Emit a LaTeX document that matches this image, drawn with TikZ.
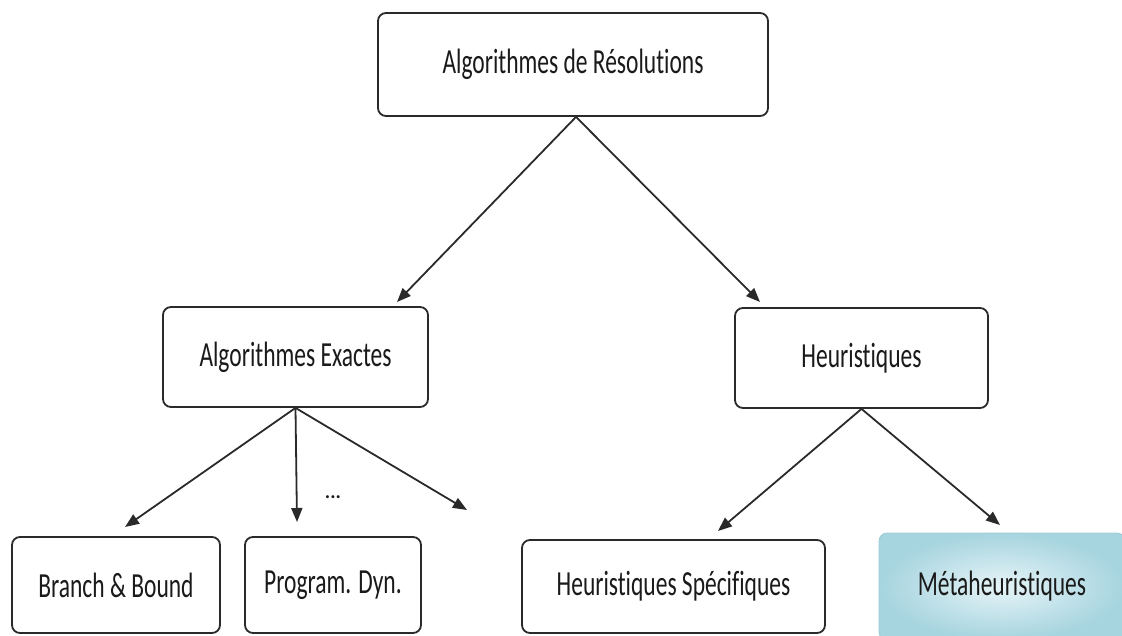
\documentclass[tikz,border=0pt]{standalone}
\usepackage{fontspec}
\usepackage{graphicx}
\setmainfont{Carlito}[Ligatures={NoCommon}]
\usetikzlibrary{arrows.meta,calc}
\newcommand{\tallword}[1]{\scalebox{1}[1.5]{#1}}
\definecolor{inkgray}{HTML}{1A1A1A}
\definecolor{edgegray}{HTML}{2A2A2A}
\definecolor{metaedge}{HTML}{9CCAD6}
\definecolor{metaout}{HTML}{A6D4DF}
\definecolor{metain}{HTML}{E6F4F7}
\tikzset{
  x=1pt, y=-1pt,
  box/.style={draw=edgegray, line width=1.8pt, rounded corners=8pt, fill=white,
    text=inkgray, font=\fontsize{23.5}{28}\selectfont, inner sep=0pt},
  metabox/.style={box, draw=metaedge, line width=0.8pt, inner color=metain, outer color=metaout},
  link/.style={draw=edgegray, line width=1.8pt, -{Triangle[length=14pt,width=11pt]}}
}
\begin{document}
\begin{tikzpicture}
\useasboundingbox (0,0) rectangle (1122,635);

% boxes of the tree
\node[box, minimum width=390pt, minimum height=103pt] (top) at (573,64.5) {\tallword{Algorithmes de Résolutions}};
\node[box, minimum width=265pt, minimum height=100pt] (exact) at (295.5,357) {\tallword{Algorithmes Exactes}};
\node[box, minimum width=253pt, minimum height=100pt] (heur) at (861.5,358) {\tallword{Heuristiques}};
\node[box, minimum width=208pt, minimum height=96pt] (bb) at (116,585) {\tallword{Branch \& Bound}};
\node[box, minimum width=176pt, minimum height=96pt] (pd) at (333,585) {\tallword{Program. Dyn.}};
\node[box, minimum width=303pt, minimum height=93pt] (hs) at (673.5,586.5) {\tallword{Heuristiques Spécifiques}};
\node[metabox, minimum width=246pt, minimum height=107pt] (meta) at (1002,586.5) {\tallword{Métaheuristiques}};
\node[text=inkgray, font=\fontsize{20}{22}\selectfont\bfseries, inner sep=0pt] (dots) at (333,497) {...};

% arrow end points
\coordinate (tipExact) at (397,302);
\coordinate (tipHeur) at (760,302);
\coordinate (tipBB) at (125,527);
\coordinate (tipPD) at (297,522);
\coordinate (tipMore) at (467,510);
\coordinate (tipHS) at (718,531);
\coordinate (tipMeta) at (1000,525);

% connectors
\draw[link] ($(top.south)+(3,0)$) -- (tipExact);
\draw[link] ($(top.south)+(3,0)$) -- (tipHeur);
\draw[link] (exact.south) -- (tipBB);
\draw[link] (exact.south) -- (tipPD);
\draw[link] (exact.south) -- (tipMore);
\draw[link] (heur.south) -- (tipHS);
\draw[link] (heur.south) -- (tipMeta);
\end{tikzpicture}
\end{document}
